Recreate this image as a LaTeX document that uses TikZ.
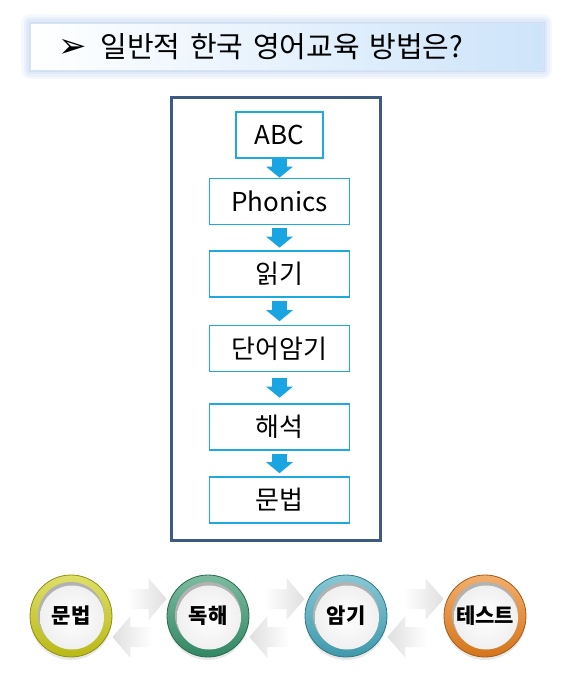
\documentclass[tikz,border=0pt]{standalone}
\usepackage{fontspec}
\setmainfont{Noto Sans CJK KR}
\newfontfamily\symfont{DejaVu Sans}
\usetikzlibrary{arrows.meta,positioning,calc,shadows}

\definecolor{frameBlue}{RGB}{62,90,131}
\definecolor{boxCyan}{RGB}{30,170,220}
\definecolor{arrowCyan}{RGB}{25,165,225}
\definecolor{glowBlue}{RGB}{175,200,235}
\definecolor{titleBlue}{RGB}{205,228,250}
\definecolor{ringYellow}{RGB}{205,205,25}
\definecolor{ringGreen}{RGB}{55,150,110}
\definecolor{ringTeal}{RGB}{70,170,190}
\definecolor{ringOrange}{RGB}{235,130,30}

% faded block arrow between two rings: tip, direction (1 right, -1 left), shading style
\newcommand{\softarrow}[3]{%
  \shade[#3] (#1) -- ++({-18*(#2)},-21) -- ++(0,11) -- ++({-22*(#2)},0)
    -- ++(0,20) -- ++({22*(#2)},0) -- ++(0,11) -- cycle;
}

\begin{document}
\begin{tikzpicture}[x=1pt, y=-1pt,
        titlebox/.style={
                rectangle, minimum width=513pt, minimum height=47pt,
                inner xsep=28pt, text width=457pt, align=left,
                left color=white, right color=titleBlue,
                draw=glowBlue!50, line width=1pt,
                font=\fontsize{29}{34}\selectfont,
                preaction={draw=glowBlue, line width=18pt, opacity=0.12, line join=round},
                preaction={draw=glowBlue, line width=13pt, opacity=0.15, line join=round},
                preaction={draw=glowBlue, line width=8pt, opacity=0.2, line join=round},
                preaction={draw=glowBlue, line width=3pt, opacity=0.3}
            },
        frameBox/.style={
                draw=frameBlue, line width=3pt,
                minimum width=209pt, minimum height=443pt, inner sep=0pt
            },
        flowbox/.style={
                draw=boxCyan, line width=1.6pt, fill=white,
                minimum width=140pt, minimum height=46pt, inner sep=0pt,
                font=\fontsize{26}{30}\selectfont
            },
        flowarrow/.style={
                draw=arrowCyan, line width=15pt,
                -{Triangle[width=26pt, length=11pt]},
                shorten <=#1, shorten >=#1
            },
        ring/.style={
                circle, minimum size=82pt, inner sep=0pt,
                top color=#1!65!white, bottom color=#1!90!black,
                draw=#1!70!black, line width=0.8pt,
                drop shadow={opacity=0.18, shadow xshift=0pt, shadow yshift=-3pt},
                font=\fontsize{21}{24}\selectfont\bfseries,
                path picture={
                        \fill[black!30] ([yshift=1pt]path picture bounding box.center) circle (33pt);
                        \shade[inner color=white, outer color=gray!12]
                        ([xshift=1pt, yshift=-1.5pt]path picture bounding box.center) circle (32pt);
                    }
            },
        softright/.style={left color=white, right color=gray!25},
        softleft/.style={left color=gray!25, right color=white}
    ]
    \useasboundingbox (0,0) rectangle (568,686);

    % Title
    \node[titlebox] (title) at (286.5,46.5) {{\symfont\fontsize{34}{34}\selectfont ➢}\hspace{14pt}일반적 한국 영어교육 방법은?};

    % Flow of steps
    \node[frameBox] (frame) at (275.5,318.5) {};
    \node[flowbox, minimum width=87pt] (abc) at (279.5,135) {ABC};
    \node[flowbox] (phonics) at (279.5,201.5) {Phonics};
    \node[flowbox] (reading) at (279.5,274) {읽기};
    \node[flowbox] (vocab) at (279.5,348.5) {단어암기};
    \node[flowbox] (translate) at (279.5,427) {해석};
    \node[flowbox] (grammar) at (279.5,500) {문법};

    \draw[flowarrow=0pt] (abc) -- (phonics);
    \draw[flowarrow=2.5pt] (phonics) -- (reading);
    \draw[flowarrow=3.5pt] (reading) -- (vocab);
    \draw[flowarrow=5.5pt] (vocab) -- (translate);
    \draw[flowarrow=3pt] (translate) -- (grammar);

    % Cycle of rings
    \node[ring=ringYellow] (ringA) at (71,616) {문법};
    \node[ring=ringGreen] (ringB) at (208,616) {독해};
    \node[ring=ringTeal] (ringC) at (346,616) {암기};
    \node[ring=ringOrange] (ringD) at (485,616) {테스트};

    \softarrow{[yshift=17pt]ringB.west}{1}{softright}
    \softarrow{[yshift=-21pt]ringA.east}{-1}{softleft}
    \softarrow{[yshift=17pt]ringC.west}{1}{softright}
    \softarrow{[yshift=-21pt]ringB.east}{-1}{softleft}
    \softarrow{[yshift=17pt]ringD.west}{1}{softright}
    \softarrow{[yshift=-21pt]ringC.east}{-1}{softleft}
\end{tikzpicture}
\end{document}
